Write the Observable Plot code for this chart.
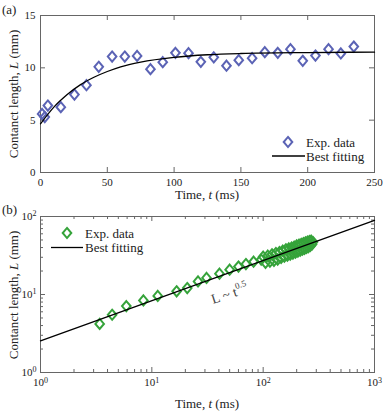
<!DOCTYPE html>
<html><head><meta charset="utf-8">
<script src="https://cdn.jsdelivr.net/npm/d3@7"></script>
<script src="https://cdn.jsdelivr.net/npm/@observablehq/plot@0.6"></script>
<style>
body{margin:0;background:#fff;}
#wrap{position:relative;width:387px;height:412px;background:#fff;}
#wrap svg{display:block;}
</style></head><body><div id="wrap"></div>
<script>
// ---- Panel (a) data ----
const timeA = [1.2, 3.2, 5.5, 15.2, 25.4, 34.4, 43.6, 53.6, 63.1, 72.3, 82.3, 91.5, 101, 110.8, 120, 129.7, 139.2, 148.4, 158.4, 167.9, 177.6, 187.1, 196.3, 205.8, 215.6, 224.8, 234.5];
const lenA  = [5.6, 5.3, 6.4, 6.24, 7.45, 8.34, 10.1, 11.08, 11.08, 11.14, 9.87, 10.54, 11.43, 11.4, 10.57, 11.0, 10.2, 10.73, 10.92, 11.5, 11.43, 11.78, 10.67, 11.17, 11.78, 11.37, 12.03];
const fitTimeA = [0, 10, 20, 30, 40, 50, 60, 75, 100, 125, 150, 200, 250];
const fitLenA  = [4.65, 6.25, 7.45, 8.4, 9.1, 9.65, 10.1, 10.55, 11.0, 11.25, 11.37, 11.46, 11.5];
const xTicksA = [0, 50, 100, 150, 200, 250];
const yTicksA = [0, 5, 10, 15];

// ---- Panel (b) data ----
const timeB = [3.4, 4.4, 5.9, 8.4, 11.3, 16.7, 20.8, 26, 31, 40.5, 50, 60, 70, 82, 96,
  100, 105, 110, 115, 120, 125, 130, 135, 140, 145, 150, 155, 160, 165, 170, 175, 180, 185, 190, 195,
  200, 205, 210, 215, 220, 225, 230, 235, 240, 245, 250, 255, 260, 265, 270, 275, 280];
const lenB = [4.2, 5.5, 7.1, 8.4, 9.6, 11.0, 12.1, 14.7, 16.3, 18.5, 20.8, 22.8, 24.6, 26.3, 28,
  30.5, 25.5, 31.5, 26.3, 32.8, 27, 34, 28, 35, 29.5, 36.5, 30.5, 38, 31.5, 39, 32.5, 40, 33.5, 41, 34.5,
  42.5, 35.5, 43.5, 36.5, 44.5, 37.5, 45.5, 38.5, 46.5, 39.5, 47.5, 40.5, 48.5, 42, 49, 44, 47];
const fitTimeB = [1, 1000];
const fitLenB  = [2.55, 89];
const xTicksB = [1, 10, 100, 1000];
const yTicksB = [1, 10, 100];

// ---- helpers ----
const dataA = timeA.map((t, i) => ({t, L: lenA[i]}));
const fitA = fitTimeA.map((t, i) => ({t, L: fitLenA[i]}));
const dataB = timeB.map((t, i) => ({t, L: lenB[i]}));
const fitB = fitTimeB.map((t, i) => ({t, L: fitLenB[i]}));
const minor = (decades) => decades.flatMap(d => [2,3,4,5,6,7,8,9].map(k => d * k));

const K = 1.18;
const tallDiamond = {draw(ctx, size) {
  const r = Math.sqrt(size / Math.PI);
  ctx.moveTo(0, -K * r); ctx.lineTo(r, 0); ctx.lineTo(0, K * r); ctx.lineTo(-r, 0); ctx.closePath();
}};
const FRAME = "#666";
const FONT = "Liberation Serif";

function inTicksX(vals, fh, len) {
  return [Plot.tickX(vals, {x: d => d, stroke: FRAME, insetTop: fh - len}),
          Plot.tickX(vals, {x: d => d, stroke: FRAME, insetBottom: fh - len})];
}
function inTicksY(vals, fw, len) {
  return [Plot.tickY(vals, {y: d => d, stroke: FRAME, insetRight: fw - len}),
          Plot.tickY(vals, {y: d => d, stroke: FRAME, insetLeft: fw - len})];
}

const W = 387, ML = 40, MR = 13;
const FW = W - ML - MR;

// ---- Plot (a) ----
const hA = 200, mtA = 15, mbA = 28, FHA = hA - mtA - mbA;
const plotA = Plot.plot({
  width: W, height: hA, marginLeft: ML, marginRight: MR, marginTop: mtA, marginBottom: mbA,
  style: {fontFamily: FONT, fontSize: "11px", color: "#222", background: "#fff"},
  x: {domain: [0, 250]},
  y: {domain: [0, 15]},
  marks: [
    ...inTicksX(xTicksA, FHA, 5),
    ...inTicksY(yTicksA, FW, 5),
    Plot.frame({stroke: FRAME}),
    Plot.axisX({ticks: xTicksA, tickSize: 0, tickPadding: 6, label: null}),
    Plot.axisY({ticks: yTicksA, tickSize: 0, tickPadding: 5, label: null}),
    Plot.dot(dataA, {x: "t", y: "L", symbol: tallDiamond, r: 4.3, stroke: "#5b63b5", strokeWidth: 2, fill: "none"}),
    Plot.line(fitA, {x: "t", y: "L", stroke: "#000", strokeWidth: 1.3, curve: "monotone-x"})
  ]
});

// ---- Plot (b) ----
const hB = 212, mtB = 16, mbB = 40, FHB = hB - mtB - mbB;
const plotB = Plot.plot({
  width: W, height: hB, marginLeft: ML, marginRight: MR, marginTop: mtB, marginBottom: mbB,
  style: {fontFamily: FONT, fontSize: "11px", color: "#222", background: "#fff"},
  x: {type: "log", domain: [1, 1000]},
  y: {type: "log", domain: [1, 100]},
  marks: [
    ...inTicksX(xTicksB, FHB, 5),
    ...inTicksX(minor([1, 10, 100]), FHB, 3),
    ...inTicksY(yTicksB, FW, 5),
    ...inTicksY(minor([1, 10]), FW, 3),
    Plot.frame({stroke: FRAME}),
    Plot.axisX({ticks: xTicksB, tickSize: 0, tickPadding: 6, label: null, tickFormat: d => "10^" + Math.round(Math.log10(d))}),
    Plot.axisY({ticks: yTicksB, tickSize: 0, tickPadding: 4, label: null, tickFormat: d => "10^" + Math.round(Math.log10(d))}),
    Plot.dot(dataB, {x: "t", y: "L", symbol: tallDiamond, r: 4.3, stroke: "#35a33a", strokeWidth: 2, fill: "none"}),
    Plot.line(fitB, {x: "t", y: "L", stroke: "#000", strokeWidth: 1.3})
  ]
});

function supify(svg) {
  svg.querySelectorAll("text").forEach(t => {
    const m = t.textContent.match(/^10\^(\d)$/);
    if (m) {
      t.textContent = "10";
      const ts = document.createElementNS("http://www.w3.org/2000/svg", "tspan");
      ts.setAttribute("dy", "-0.45em");
      ts.setAttribute("font-size", "8");
      ts.textContent = m[1];
      t.appendChild(ts);
    }
  });
}
supify(plotB);

const wrap = document.getElementById("wrap");
wrap.appendChild(plotA);
wrap.appendChild(plotB);

// ---- overlay: panel letters, axis titles, legends, annotation ----
const ov = d3.select(wrap).append("svg")
  .attr("width", W).attr("height", 412)
  .style("position", "absolute").style("left", "0px").style("top", "0px")
  .attr("font-size", 13).attr("fill", "#222");

function label(x, y, parts, rotate) {
  const t = ov.append("text").attr("text-anchor", "middle").attr("dominant-baseline", "central")
    .attr("transform", `translate(${x},${y})` + (rotate ? ` rotate(${rotate})` : ""));
  parts.forEach(([s, it]) => t.append("tspan").attr("font-style", it ? "italic" : null).text(s));
}
ov.append("text").attr("x", 2).attr("y", 9).attr("dominant-baseline", "central").text("(a)");
ov.append("text").attr("x", 2).attr("y", 209).attr("dominant-baseline", "central").text("(b)");
const cx = ML + FW / 2;
label(cx, 194, [["Time, "], ["t", true], [" (ms)"]]);
label(cx, 403, [["Time, "], ["t", true], [" (ms)"]]);
label(13, 94, [["Contanct length, "], ["L", true], [" (mm)"]], -90);
label(13, 295, [["Contanct length, "], ["L", true], [" (mm)"]], -90);

const dpath = (r) => `M0,${-K*r}L${r},0L0,${K*r}L${-r},0Z`;
function legend(dx, dy, tx, ly, lx1, lx2, color) {
  ov.append("path").attr("d", dpath(4.3)).attr("transform", `translate(${dx},${dy})`)
    .attr("fill", "none").attr("stroke", color).attr("stroke-width", 2);
  ov.append("text").attr("x", tx).attr("y", dy).attr("dominant-baseline", "central").text("Exp. data");
  ov.append("line").attr("x1", lx1).attr("x2", lx2).attr("y1", ly).attr("y2", ly)
    .attr("stroke", "#000").attr("stroke-width", 1.3);
  ov.append("text").attr("x", tx).attr("y", ly).attr("dominant-baseline", "central").text("Best fitting");
}
legend(288, 142, 306, 156, 272, 305, "#5b63b5");
legend(67, 233, 85, 247.5, 51, 83, "#35a33a");

const ann = ov.append("text").attr("fill", "#444").attr("font-size", 14)
  .attr("transform", "translate(213,304) rotate(-18)");
ann.append("tspan").text("L ~ t");
ann.append("tspan").attr("dy", "-7").attr("font-size", 9).text("0.5");

// force the serif face on every text node
wrap.querySelectorAll("svg").forEach(s => s.setAttribute("font-family", FONT));
wrap.querySelectorAll("text, tspan").forEach(t => { t.setAttribute("font-family", FONT); t.style.fontFamily = FONT; });
</script></body></html>
